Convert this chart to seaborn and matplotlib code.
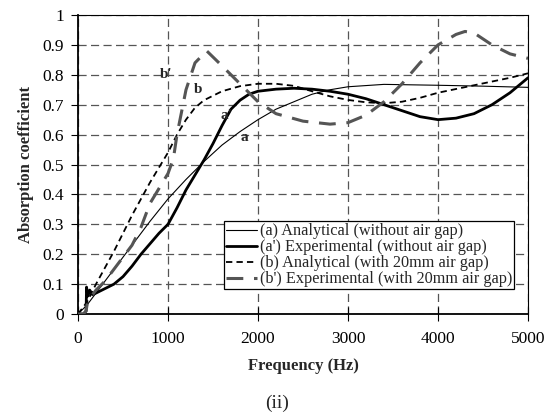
import matplotlib
matplotlib.use("Agg")
import matplotlib.pyplot as plt
import numpy as np
import pandas as pd
import seaborn as sns

# (a) Analytical, without air gap
freq_a = [0, 100, 200, 400, 600, 800, 1000, 1200, 1400, 1600, 1800, 2000,
          2200, 2400, 2600, 2800, 3000, 3400, 4000, 4500, 5000]
alpha_a = [0.0, 0.03, 0.07, 0.15, 0.23, 0.31, 0.385, 0.45, 0.51, 0.565, 0.61,
           0.65, 0.685, 0.71, 0.735, 0.75, 0.76, 0.768, 0.765, 0.762, 0.758]

# (a') Experimental, without air gap
freq_a2 = [0, 60, 90, 95, 110, 130, 160, 200, 300, 400, 500, 600, 700, 800,
           900, 1000, 1100, 1200, 1300, 1400, 1500, 1600, 1700, 1800, 1900,
           2000, 2200, 2400, 2600, 2800, 3000, 3200, 3400, 3600, 3800, 4000,
           4200, 4400, 4600, 4800, 5000]
alpha_a2 = [0.0, 0.0, 0.01, 0.09, 0.06, 0.08, 0.065, 0.07, 0.085, 0.1, 0.125,
            0.16, 0.2, 0.235, 0.27, 0.3, 0.355, 0.415, 0.465, 0.515, 0.57,
            0.63, 0.685, 0.715, 0.735, 0.745, 0.752, 0.755, 0.752, 0.745,
            0.735, 0.72, 0.7, 0.68, 0.66, 0.65, 0.655, 0.67, 0.7, 0.74, 0.79]

# (b) Analytical, with 20mm air gap
freq_b = [0, 100, 200, 400, 600, 800, 1000, 1100, 1200, 1300, 1400, 1600,
          1800, 2000, 2200, 2400, 2600, 2800, 3000, 3200, 3400, 3600, 3800,
          4000, 4400, 4800, 5000]
alpha_b = [0.0, 0.04, 0.1, 0.21, 0.33, 0.44, 0.54, 0.6, 0.65, 0.69, 0.715,
           0.745, 0.762, 0.77, 0.77, 0.763, 0.745, 0.728, 0.716, 0.708, 0.705,
           0.71, 0.723, 0.74, 0.765, 0.79, 0.805]

# (b') Experimental, with 20mm air gap
freq_b2 = [0, 60, 90, 100, 150, 200, 300, 400, 500, 600, 700, 800, 900, 1000,
           1060, 1100, 1200, 1300, 1430, 1600, 1800, 2000, 2200, 2500, 2800,
           3000, 3200, 3400, 3600, 3800, 4000, 4200, 4300, 4400, 4600, 4800,
           5000]
alpha_b2 = [0.0, 0.0, 0.01, 0.03, 0.06, 0.08, 0.11, 0.15, 0.19, 0.23, 0.29,
            0.37, 0.42, 0.47, 0.52, 0.6, 0.75, 0.84, 0.88, 0.83, 0.77, 0.71,
            0.67, 0.645, 0.635, 0.64, 0.665, 0.71, 0.77, 0.84, 0.9, 0.935,
            0.945, 0.94, 0.9, 0.87, 0.855]

LEGEND_LABELS = [
    "(a) Analytical (without air gap)",
    "(a') Experimental (without air gap)",
    "(b) Analytical (with 20mm air gap)",
    "(b') Experimental (with 20mm air gap)",
]
CURVE_TAGS = ["a", "a'", "b", "b'"]

sns.set_theme(style="white")
plt.rcParams["font.family"] = ["Liberation Serif", "DejaVu Serif"]

fig = plt.figure(figsize=(5.54, 4.18), dpi=100)
ax = fig.add_axes([0.1408, 0.2488, 0.8123, 0.7153])

series = [
    (freq_a, alpha_a, dict(color="black", linewidth=0.8, linestyle="-")),
    (freq_a2, alpha_a2, dict(color="black", linewidth=2.0, linestyle="-")),
    (freq_b, alpha_b, dict(color="black", linewidth=1.3,
                           linestyle=(0, (3.5, 2.3)))),
    (freq_b2, alpha_b2, dict(color="#555555", linewidth=2.2,
                             linestyle=(0, (5.5, 3.5)))),
]
for (f, a, style), label in zip(series, LEGEND_LABELS):
    df = pd.DataFrame({"freq": f, "alpha": a})
    sns.lineplot(data=df, x="freq", y="alpha", sort=False, label=label,
                 ax=ax, zorder=3, **style)

ax.set_xlim(0, 5000)
ax.set_ylim(0, 1)
ax.set_xticks(np.arange(0, 5001, 1000))
ax.set_yticks(np.round(np.arange(0, 1.01, 0.1), 1))
ax.set_yticklabels(["0", "0.1", "0.2", "0.3", "0.4", "0.5", "0.6", "0.7",
                    "0.8", "0.9", "1"])
ax.grid(True, color="#555555", linestyle=(0, (6.5, 3.5)), linewidth=0.9)
ax.tick_params(axis="y", direction="out", length=5, width=0.8,
               labelsize=12.5, colors="black", left=True, pad=5)
ax.tick_params(axis="x", direction="inout", length=10, width=0.8,
               labelsize=12.5, colors="black", bottom=True, pad=7)
for side in ["left", "bottom"]:
    ax.spines[side].set_color("black")
    ax.spines[side].set_linewidth(1.3)
for side in ["top", "right"]:
    ax.spines[side].set_color("black")
    ax.spines[side].set_linewidth(0.8)

ax.set_xlabel("Frequency (Hz)", fontsize=12, fontweight="bold", labelpad=8)
ax.set_ylabel("Absorption coefficient", fontsize=12, fontweight="bold",
              labelpad=6)

tag_pos = {"b'": (985, 0.80), "b": (1330, 0.75), "a'": (1650, 0.665),
           "a": (1850, 0.59)}
for tag in CURVE_TAGS:
    x, y = tag_pos[tag]
    ax.text(x, y, tag, fontsize=11, fontweight="bold", ha="center",
            va="center", zorder=4)

leg = ax.legend(loc="lower left", bbox_to_anchor=(0.325, 0.083), fontsize=11.7,
                frameon=True, fancybox=False, framealpha=1, edgecolor="black",
                borderpad=0.12, labelspacing=0.0, handlelength=1.9,
                handletextpad=0.15, borderaxespad=0)
leg.get_frame().set_linewidth(0.9)
leg.set_zorder(5)

fig.text(0.5, 0.036, "(ii)", fontsize=14, ha="center", va="center")

fig.savefig("out.png", dpi=100)
